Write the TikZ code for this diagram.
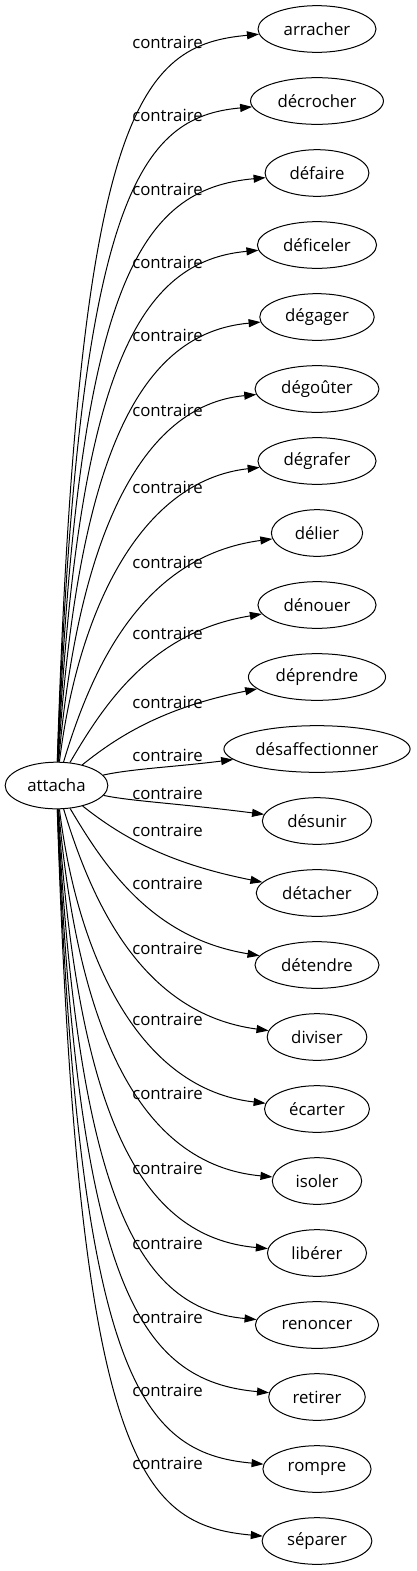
\documentclass[tikz,border=0pt]{standalone}
\usepackage{fontspec}
\setmainfont{Open Sans}
\usetikzlibrary{arrows.meta, shapes.geometric}
\newcommand{\wordfont}{\fontsize{12.6}{15}\selectfont}
\tikzset{
  every picture/.style={line width=0.75pt},
  word/.style={draw, ellipse, inner sep=0pt, minimum height=35pt, font=\wordfont,
    minimum width={1.208*(\wd\pgfnodeparttextbox+23.25pt)}},
  rel/.style={font=\wordfont, inner sep=0pt},
  edge/.style={-{Triangle[length=9pt, width=6pt]}},
}
\begin{document}
\begin{tikzpicture}[x=0.75pt, y=-0.75pt]
  \useasboundingbox (0,0) rectangle (417,1571);
  % source word
  \node[word, minimum width=77pt] (attacha) at (56.5,785.5) {attacha};
  % its opposites, one per row
  \foreach \i/\txt/\ly in {0/arracher/42, 1/décrocher/115, 2/défaire/189, 3/déficeler/262,
      4/dégager/335, 5/dégoûter/410, 6/dégrafer/487, 7/délier/562, 8/dénouer/633,
      9/déprendre/702, 10/désaffectionner/755, 11/désunir/793, 12/détacher/830,
      13/détendre/883, 14/diviser/948, 15/écarter/1019, 16/isoler/1093, 17/libérer/1168,
      18/renoncer/1243, 19/retirer/1317, 20/rompre/1390, 21/séparer/1463} {
    \pgfmathsetmacro\yt{29+72*\i}
    \pgfmathsetmacro\dy{785-\yt}
    \pgfmathsetmacro\s{sign(\dy)}
    \pgfmathsetmacro\a{abs(\dy)}
    \pgfmathsetmacro\cax{78+60*max(0,1-\a/320)}
    \pgfmathsetmacro\cay{\yt+\s*min(0.55*\a,150-0.2*max(0,\a-400))}
    \pgfmathsetmacro\cbx{140+40*max(0,1-\a/250)}
    \pgfmathsetmacro\cby{\yt+\s*min(0.5*\a,16+20*max(0,1-\a/400))}
    \node[word] (w\i) at (317,\yt) {\txt};
    \node[rel] (r\i) at (167.5,\ly) {contraire};
    \draw[edge] (attacha) .. controls (\cax,\cay) and (\cbx,\cby) .. (w\i);
  }
\end{tikzpicture}
\end{document}
